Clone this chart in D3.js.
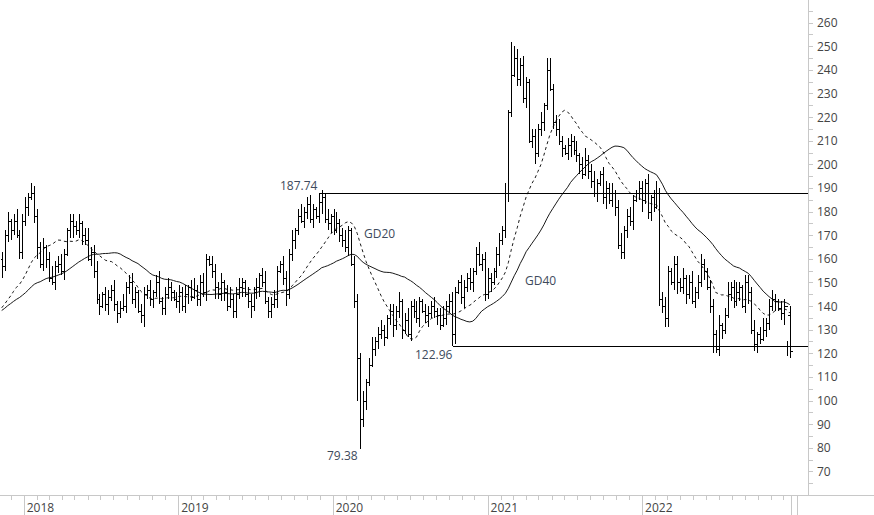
<!DOCTYPE html>
<html><head><meta charset="utf-8">
<script src="https://cdn.jsdelivr.net/npm/d3@7"></script>
<style>body{margin:0;background:#fff}svg{display:block}text{font-family:"Open Sans",sans-serif}</style>
</head><body><svg id="c" width="874" height="515"></svg>
<script>
// weekly closes before the visible range (for moving averages only)
const preCloses=[131,134,132,136,138,135,133,137,140,138,136,134,139,141,137,135,138,140,142,139,136,138,141,139,137,135,138,140,136,134,137,139,141,138,136,139,142,140,137,141];
// visible weekly closes, first week 2017-11-10
const closes2017=[157,170,176,172,176,170,163];
const closes2018=[176,182,186,188,178,165,158,165,160,152,150,157,158,155,162,172,176,174,172,175,170,168,160,163,155,143,140,145,141,144,147,141,137,139,140,148,150,143,146,138,136,145,147,143,146,150,142,139,145,148,146,143];
const closes2019=[142,146,140,145,148,144,147,143,150,146,160,158,155,148,145,150,146,140,143,138,145,148,150,145,142,140,146,148,153,150,142,138,141,143,155,158,152,145,162,168,172,178,176,180,183,177,181,178,184,186,177,175];
const closes2020=[178,172,175,170,168,165,172,158,142,118,92,100,108,115,122,125,128,130,127,135,138,132,138,142,130,134,128,140,138,135,142,138,136,137,140,138,136,132,135,140,142,128,146,150,144,148,152,150,155,162,158,160];
const closes2021=[145,152,150,155,162,168,172,188,222,238,245,236,242,228,235,210,212,205,215,218,225,240,232,218,215,210,207,205,208,210,206,204,200,196,202,197,193,188,192,196,186,190,185,188,182,166,163,172,178,176,185,188];
const closes2022=[190,185,192,180,186,182,188,143,140,135,155,150,158,150,148,152,145,150,142,146,150,158,155,148,140,128,122,132,130,136,145,148,142,146,148,140,150,146,130,124,128,126,130,133,140,143,142,139,137,140,136,121];
// notable extremes: [kind, week index in visible data, value]
const extremes=[["h",10,192],["h",107,187.74],["l",121,79.38],["l",120,100],["l",152,122.96],["h",172,252],["h",174,249],["h",184,245],["l",209,160],["l",224,131],["h",222,190],["l",240,120],["l",265,119],["h",265,125]];
const wickPattern=[3,2,4,1,3,5,2,3,4,2,1,3];
const yTicks=d3.range(70,261,10);
const years=[2018,2019,2020,2021,2022];

const closes=[].concat(closes2017,closes2018,closes2019,closes2020,closes2021,closes2022);
const all=preCloses.concat(closes);
const t0=new Date(2017,10,10);
const day=864e5;
const bars=closes.map((c,i)=>{
  const o=i===0?160:closes[i-1];
  const w=wickPattern[i%wickPattern.length];
  return {d:new Date(+t0+i*7*day),o,c,h:Math.max(o,c)+w,l:Math.min(o,c)-wickPattern[(i+5)%wickPattern.length]};
});
extremes.forEach(([k,i,v])=>{ if(k==="h") bars[i].h=v; else bars[i].l=v; });

function sma(n){return closes.map((c,i)=>{const j=i+preCloses.length;return {d:bars[i].d,v:d3.mean(all.slice(j-n+1,j+1))};});}

const svg=d3.select("#c");
const x=d3.scaleTime().domain([new Date(2017,10,6),new Date(2023,0,28)]).range([0,808]);
const y=d3.scaleLinear().domain([60,270]).range([495,-1]);
const X=d=>Math.round(x(d))+0.5, Y=v=>Math.round(y(v))+0.5;

const g=svg.append("g").attr("shape-rendering","crispEdges");
bars.forEach(b=>{
  const xx=X(b.d);
  g.append("line").attr("x1",xx).attr("x2",xx).attr("y1",y(b.h)).attr("y2",y(b.l)).attr("stroke","#000");
  g.append("line").attr("x1",xx-2).attr("x2",xx).attr("y1",Y(b.o)).attr("y2",Y(b.o)).attr("stroke","#000");
  g.append("line").attr("x1",xx).attr("x2",xx+2).attr("y1",Y(b.c)).attr("y2",Y(b.c)).attr("stroke","#000");
});
const line=d3.line().x(p=>x(p.d)).y(p=>y(p.v));
svg.append("path").datum(sma(20)).attr("d",line).attr("fill","none").attr("stroke","#000").attr("stroke-width",0.9).attr("stroke-dasharray","3,3");
svg.append("path").datum(sma(40)).attr("d",line).attr("fill","none").attr("stroke","#000").attr("stroke-width",0.9);
g.append("line").attr("x1",X(bars[107].d)).attr("x2",808).attr("y1",Y(187.74)).attr("y2",Y(187.74)).attr("stroke","#000");
g.append("line").attr("x1",X(bars[152].d)).attr("x2",808).attr("y1",Y(122.96)).attr("y2",Y(122.96)).attr("stroke","#000");
const lab=(t,xx,yy)=>svg.append("text").attr("x",xx).attr("y",yy).attr("font-size",12).attr("fill","#3d4a5c").text(t);
lab("187.74",280,190); lab("122.96",415,359); lab("79.38",327,460); lab("GD20",364,238); lab("GD40",525,285);
g.append("line").attr("x1",808.5).attr("x2",808.5).attr("y1",0).attr("y2",495).attr("stroke","#c8c8c8");
d3.range(65,266,5).forEach(v=>{g.append("line").attr("x1",809).attr("x2",813).attr("y1",Y(v)).attr("y2",Y(v)).attr("stroke","#c8c8c8");});
yTicks.forEach(v=>svg.append("text").attr("x",817).attr("y",y(v)+4.5).attr("font-size",12).attr("fill","#444").text(v));
g.append("line").attr("x1",0).attr("x2",874).attr("y1",495.5).attr("y2",495.5).attr("stroke","#c8c8c8");
d3.timeMonth.range(new Date(2017,10,1),new Date(2023,1,1)).forEach(m=>{const xx=X(m);if(xx<0||xx>808)return;
  g.append("line").attr("x1",xx).attr("x2",xx).attr("y1",496).attr("y2",m.getMonth()===0?515:500).attr("stroke","#c8c8c8");});
g.append("line").attr("x1",791.5).attr("x2",791.5).attr("y1",496).attr("y2",515).attr("stroke","#c8c8c8");
years.forEach(yr=>svg.append("text").attr("x",x(new Date(yr,0,1))+3).attr("y",512).attr("font-size",12).attr("fill","#444").text(yr));
</script></body></html>
